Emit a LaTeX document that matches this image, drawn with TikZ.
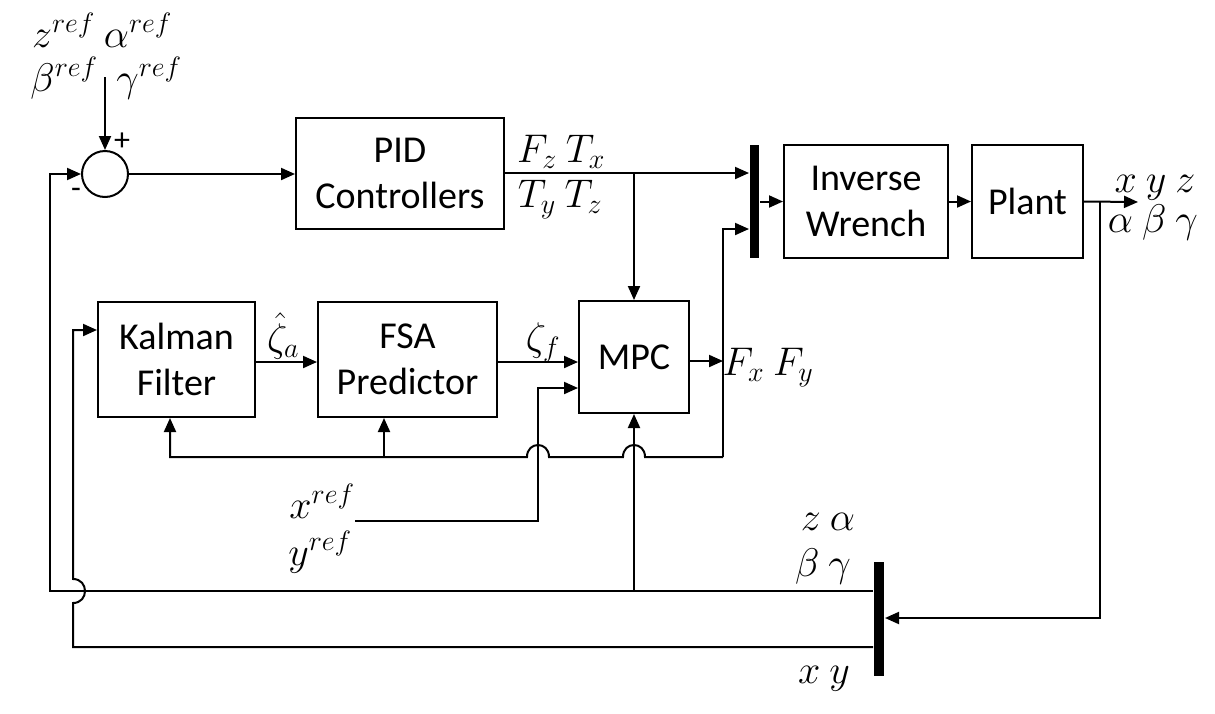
\documentclass[tikz,border=0pt]{standalone}
\usepackage{fix-cm}
\usepackage{fontspec}
\setmainfont{Carlito}
\usetikzlibrary{arrows.meta}
\begin{document}
\begin{tikzpicture}[x=1pt,y=-1pt, line width=2pt,
  >={Triangle[length=14pt,width=12pt]},
  blk/.style={draw, line width=2pt, inner sep=0pt, align=center, font=\fontsize{38}{46}\selectfont},
  barblk/.style={fill=black, draw=none, inner sep=0pt},
  lbl/.style={inner sep=0pt, anchor=base, font=\fontsize{40}{44}\selectfont},
  sgn/.style={inner sep=0pt, font=\fontsize{32}{32}\selectfont}]
\useasboundingbox (0,0) rectangle (1215,713);

% blocks
\node[draw, circle, minimum size=46pt, inner sep=0pt] (sum) at (105,174) {};
\node[blk, minimum width=208pt, minimum height=111pt] (pid) at (400,173.5) {PID\\Controllers};
\node[barblk, minimum width=9pt, minimum height=113pt] (bar1) at (754.5,201.5) {};
\node[blk, minimum width=164pt, minimum height=113pt] (invw) at (866,201.5) {Inverse\\Wrench};
\node[blk, minimum width=111pt, minimum height=113pt] (plant) at (1027.5,201.5) {Plant};
\node[blk, minimum width=157pt, minimum height=115pt] (kal) at (176.5,359.5) {Kalman\\Filter};
\node[blk, minimum width=179pt, minimum height=115pt] (fsa) at (407.5,359.5) {FSA\\Predictor};
\node[blk, minimum width=110pt, minimum height=112pt] (mpc) at (634,357) {MPC};
\node[barblk, minimum width=10pt, minimum height=114pt] (bar2) at (879,619) {};

% labels
\node[lbl] (lzr) at (102,47) {$z^{ref}\ \alpha^{ref}$};
\node[lbl] (lbr) at (64,91) {$\beta^{ref}$};
\node[lbl] (lgr) at (149,91) {$\gamma^{ref}$};
\node[sgn] (plus) at (122,142) {+};
\node[sgn] (minus) at (76,193) {-};
\node[lbl] (lfz) at (561,162) {$F_z\ T_x$};
\node[lbl] (lty) at (560,207) {$T_y\ T_z$};
\node[lbl] (lza) at (283,351) {$\hat{\zeta}_a$};
\node[lbl] (lzf) at (543,350) {$\zeta_f$};
\node[lbl] (lfx) at (768,375) {$F_x\ F_y$};
\node[lbl] (lxyz) at (1155,192) {$x\ y\ z$};
\node[lbl] (labg) at (1153,232) {$\alpha\ \beta\ \gamma$};
\node[lbl] (lza2) at (828,530) {$z\ \alpha$};
\node[lbl] (lbg2) at (823,576) {$\beta\ \gamma$};
\node[lbl] (lxy2) at (824,683) {$x\ y$};
\node[lbl] (lxr) at (322,518) {$x^{ref}$};
\node[lbl] (lyr) at (320,565) {$y^{ref}$};

% coordinates
\coordinate (refin) at (105,77);
\coordinate (bFb) at (634,173);
\coordinate (yA) at (0,362);
\coordinate (mpcOut) at (723,361);
\coordinate (vTop) at (723,229);
\coordinate (vBot) at (723,457);
\coordinate (kB) at (170,457);
\coordinate (fB) at (384,457);
\coordinate (out) at (1138,202);
\coordinate (pB) at (1100,202);
\coordinate (pC) at (1100,618);
\coordinate (l1) at (50,591);
\coordinate (l2) at (73,647);
\coordinate (kin) at (73,330);
\coordinate (xs) at (355,521);
\coordinate (xc) at (538,521);
\coordinate (xu) at (538,388);
\coordinate (mB) at (634,591);

% connectors
\draw[->] (refin) -- (sum.north);
\draw[->] (sum.east) -- (sum.east -| pid.west);
\draw[->] (pid.east |- bFb) -- (bFb -| bar1.west);
\draw[->] (bFb) -- (mpc.north);
\draw[->] (bar1.east) -- (invw.west);
\draw[->] (invw.east) -- (plant.west);
\draw[->] (plant.east) -- (out);
\draw[->] (pB) -- (pC) -- (pC -| bar2.east);
\draw[->] (l1 -| bar2.west) -- (l1) -- (l1 |- sum.west) -- (sum.west);
\draw[->] (l2 -| bar2.west) -- (l2) -- (73,603) .. controls (89,603) and (89,579) .. (73,579) -- (kin) -- (kin -| kal.west);
\draw[->] (kal.east |- yA) -- (fsa.west |- yA);
\draw[->] (fsa.east |- yA) -- (mpc.west |- yA);
\draw[->] (mpc.east |- mpcOut) -- (mpcOut);
\draw[->] (vBot) -- (vTop) -- (vTop -| bar1.west);
\draw[->] (vBot) -- (645,457) .. controls (645,441) and (623,441) .. (623,457) -- (549,457) .. controls (549,441) and (527,441) .. (527,457) -- (kB) -- (kB |- kal.south);
\draw[->] (fB) -- (fB |- fsa.south);
\draw[->] (xs) -- (xc) -- (xu) -- (xu -| mpc.west);
\draw[->] (mB) -- (mpc.south);
\end{tikzpicture}
\end{document}
